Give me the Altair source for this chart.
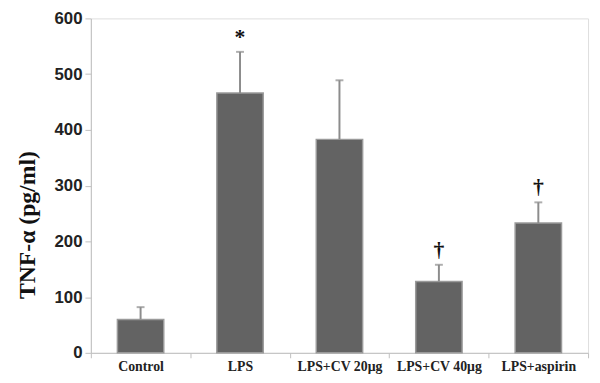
import altair as alt
import pandas as pd

groups = ["Control", "LPS", "LPS+CV 20\u03bcg", "LPS+CV 40\u03bcg", "LPS+aspirin"]
means = [60, 466, 383, 128, 233]
errors = [22, 74, 106, 30, 37]
marks = ["", "*", "", "\u2020", "\u2020"]

df = pd.DataFrame({"group": groups, "mean": means, "err": errors, "mark": marks})
df["upper"] = df["mean"] + df["err"]

x = alt.X("group:N", sort=groups, title=None,
          scale=alt.Scale(paddingInner=0, paddingOuter=0),
          axis=alt.Axis(labelAngle=0, labelFont="Liberation Serif", labelFontWeight="bold",
                        labelFontSize=14, labelColor="#222", domainColor="#bfbfbf",
                        tickColor="#bfbfbf", tickBand="extent", tickSize=5, labelPadding=2,
                        labelLimit=200))

bars = alt.Chart(df).mark_bar(size=47, color="#636363", stroke="#9a9a9a", strokeWidth=1.5).encode(
    x=x,
    y=alt.Y("mean:Q", scale=alt.Scale(domain=[0, 600]), title="TNF-\u03b1 (pg/ml)",
            axis=alt.Axis(values=[0, 100, 200, 300, 400, 500, 600], grid=False,
                          labelFont="Liberation Sans", labelFontWeight="bold", labelFontSize=17,
                          labelColor="#222", domainColor="#bfbfbf", tickColor="#bfbfbf",
                          tickSize=6, labelPadding=3,
                          titleFont="Liberation Serif", titleFontWeight="bold", titleFontSize=24,
                          titleColor="#111", titleAngle=-90, titleAlign="center",
                          titleBaseline="middle", titleX=-64, titleY=209)),
)

rules = alt.Chart(df).mark_rule(color="#8c8c8c", strokeWidth=2).encode(
    x=alt.X("group:N", sort=groups), y="mean:Q", y2="upper:Q")

caps = alt.Chart(df).mark_tick(color="#8c8c8c", thickness=2, size=8, orient="horizontal").encode(
    x=alt.X("group:N", sort=groups), y="upper:Q")

labels = alt.Chart(df).mark_text(font="Liberation Serif", fontWeight="bold", fontSize=22,
                                 baseline="bottom", dy=-3, color="#111").encode(
    x=alt.X("group:N", sort=groups), y="upper:Q", text="mark:N")

chart = alt.layer(bars, rules, caps, labels).properties(
    width=504, height=339,
    autosize=alt.AutoSizeParams(type="none"),
    padding={"left": 84, "top": 8, "right": 4, "bottom": 28},
).configure_view(stroke=None).configure(background="white")

chart.save("out.html", embed_options={"renderer": "svg", "actions": False})
